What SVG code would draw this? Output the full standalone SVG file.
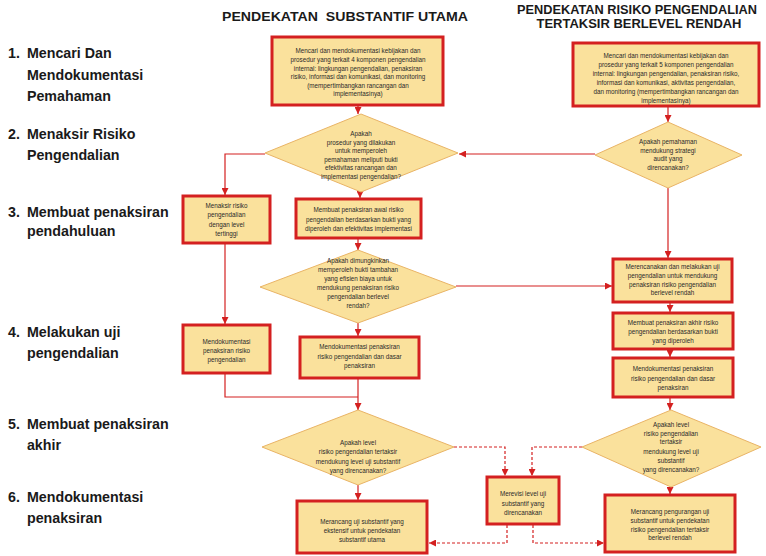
<svg xmlns="http://www.w3.org/2000/svg" width="766" height="556" viewBox="0 0 766 556">
<style>
.box{fill:#FAE19C;stroke:#D42020;stroke-width:3}
.dia{fill:#FAE19C;stroke:#E9B466;stroke-width:1}
.t{font-family:"Liberation Sans",Arial,sans-serif;font-size:6.3px;fill:#2a2a2a;text-anchor:middle}
.lab{font-family:"Liberation Sans",Arial,sans-serif;font-size:15.5px;font-weight:bold;fill:#1a1a1a}
.hd{font-family:"Liberation Sans",Arial,sans-serif;font-weight:bold;fill:#1a1a1a;text-anchor:middle}
.ln{fill:none;stroke:#D42020;stroke-width:1.2}
.dash{fill:none;stroke:#D42020;stroke-width:1.2;stroke-dasharray:3 2}
</style>
<defs>
<marker id="ah" viewBox="0 0 10 10" refX="10" refY="5" markerWidth="7" markerHeight="7" markerUnits="userSpaceOnUse" orient="auto">
<path d="M0,0 L10,5 L0,10 z" fill="#D42020"/>
</marker>
</defs>
<rect width="766" height="556" fill="#ffffff"/>

<g id="headers">
<text class="hd" x="345" y="21" font-size="12.5" textLength="246" lengthAdjust="spacingAndGlyphs" xml:space="preserve">PENDEKATAN  SUBSTANTIF UTAMA</text>
<text class="hd" x="637" y="14" font-size="12" textLength="240" lengthAdjust="spacingAndGlyphs">PENDEKATAN RISIKO PENGENDALIAN</text>
<text class="hd" x="639" y="28" font-size="12" textLength="205" lengthAdjust="spacingAndGlyphs">TERTAKSIR BERLEVEL RENDAH</text>
</g>

<g id="labels" transform="scale(0.92,1)">
<text class="lab" x="8.7" y="58">1.</text><text class="lab" x="29.3" y="58">Mencari Dan</text>
<text class="lab" x="29.3" y="80">Mendokumentasi</text>
<text class="lab" x="29.3" y="101">Pemahaman</text>
<text class="lab" x="8.7" y="139">2.</text><text class="lab" x="29.3" y="139">Menaksir Risiko</text>
<text class="lab" x="29.3" y="160">Pengendalian</text>
<text class="lab" x="8.7" y="217">3.</text><text class="lab" x="29.3" y="217">Membuat penaksiran</text>
<text class="lab" x="29.3" y="236">pendahuluan</text>
<text class="lab" x="8.7" y="337">4.</text><text class="lab" x="29.3" y="337">Melakukan uji</text>
<text class="lab" x="29.3" y="358">pengendalian</text>
<text class="lab" x="8.7" y="429">5.</text><text class="lab" x="29.3" y="429">Membuat penaksiran</text>
<text class="lab" x="29.3" y="450">akhir</text>
<text class="lab" x="8.7" y="502">6.</text><text class="lab" x="29.3" y="502">Mendokumentasi</text>
<text class="lab" x="29.3" y="523">penaksiran</text>
</g>

<g id="connectors">
<path class="ln" d="M358,106 L358,114" marker-end="url(#ah)"/>
<path class="ln" d="M668,107 L668,122" marker-end="url(#ah)"/>
<path class="ln" d="M595,154 L459,154" marker-end="url(#ah)"/>
<path class="ln" d="M265,154 L225,154 L225,195" marker-end="url(#ah)"/>
<path class="ln" d="M360,192 L360,198" marker-end="url(#ah)"/>
<path class="ln" d="M358,239 L358,250" marker-end="url(#ah)"/>
<path class="ln" d="M668,188 L668,258" marker-end="url(#ah)"/>
<path class="ln" d="M456,286 L612,286" marker-end="url(#ah)"/>
<path class="ln" d="M358,323 L358,336" marker-end="url(#ah)"/>
<path class="ln" d="M225,244 L225,324" marker-end="url(#ah)"/>
<path class="ln" d="M225,374 L225,397 L358,397"/>
<path class="ln" d="M358,379 L358,410" marker-end="url(#ah)"/>
<path class="ln" d="M670,303 L670,312" marker-end="url(#ah)"/>
<path class="ln" d="M670,350 L670,357" marker-end="url(#ah)"/>
<path class="ln" d="M670,398 L670,410" marker-end="url(#ah)"/>
<path class="ln" d="M358,485 L358,500" marker-end="url(#ah)"/>
<path class="ln" d="M670,487 L670,494" marker-end="url(#ah)"/>
<path class="dash" d="M454,447 L505,447 L505,476" marker-end="url(#ah)"/>
<path class="dash" d="M582,447 L532,447 L532,476" marker-end="url(#ah)"/>
<path class="dash" d="M507,525 L507,543 L429,543" marker-end="url(#ah)"/>
<path class="dash" d="M533,525 L533,543 L604,543" marker-end="url(#ah)"/>
</g>

<g id="n1">
<rect class="box" x="272" y="37" width="171" height="68"/>
<text class="t" x="358" y="53">Mencari dan mendokumentasi  kebijakan dan</text>
<text class="t" x="358" y="62">prosedur  yang terkait 4 komponen  pengendalian</text>
<text class="t" x="358" y="70.5">internal: lingkungan pengendalian,  penaksiran</text>
<text class="t" x="358" y="79">risiko, informasi dan komunikasi, dan  monitoring</text>
<text class="t" x="358" y="87.5">(mempertimbangkan  rancangan  dan</text>
<text class="t" x="358" y="96">implementasinya)</text>
</g>

<g id="r1">
<rect class="box" x="573" y="43" width="186" height="63"/>
<text class="t" x="666" y="57.5">Mencari dan mendokumentasi  kebijakan dan</text>
<text class="t" x="666" y="66.5">prosedur  yang terkait 5 komponen  pengendalian</text>
<text class="t" x="666" y="75.5">internal: lingkungan pengendalian,  penaksiran risiko,</text>
<text class="t" x="666" y="84.5">informasi dan komunikasi, aktivitas pengendalian,</text>
<text class="t" x="666" y="93.5">dan monitoring (mempertimbangkan  rancangan  dan</text>
<text class="t" x="666" y="102.5">implementasinya)</text>
</g>

<g id="d1">
<polygon class="dia" points="361,114 458,153 361,192 265,153"/>
<text class="t" x="361" y="135.5">Apakah</text>
<text class="t" x="361" y="144.5">prosedur  yang dilakukan</text>
<text class="t" x="361" y="153">untuk  memperoleh</text>
<text class="t" x="361" y="161.5">pemahaman  meliputi bukti</text>
<text class="t" x="361" y="170">efektivitas rancangan   dan</text>
<text class="t" x="361" y="179">implementasi pengendalian?</text>
</g>

<g id="rd1">
<polygon class="dia" points="668,122 742,155 668,188 595,155"/>
<text class="t" x="668" y="144">Apakah pemahaman</text>
<text class="t" x="668" y="152.5">mendukung  strategi</text>
<text class="t" x="668" y="161">audit yang</text>
<text class="t" x="668" y="169.5">direncanakan?</text>
</g>

<g id="l3">
<rect class="box" x="183" y="196" width="87" height="47"/>
<text class="t" x="226.5" y="207.5">Menaksir risiko</text>
<text class="t" x="226.5" y="217">pengendalian</text>
<text class="t" x="226.5" y="226.5">dengan  level</text>
<text class="t" x="226.5" y="235.5">tertinggi</text>
</g>

<g id="m3">
<rect class="box" x="296" y="199" width="125" height="39"/>
<text class="t" x="358.5" y="211.5">Membuat penaksiran  awal risiko</text>
<text class="t" x="358.5" y="221.5">pengendalian  berdasarkan   bukti yang</text>
<text class="t" x="358.5" y="230.5">diperoleh  dan efektivitas implementasi</text>
</g>

<g id="d2">
<polygon class="dia" points="358,250 456,287 358,323 260,287"/>
<text class="t" x="358" y="262.5">Apakah dimungkinkan</text>
<text class="t" x="358" y="271.5">memperoleh   bukti tambahan</text>
<text class="t" x="358" y="280.5">yang efisien biaya untuk</text>
<text class="t" x="358" y="289.5">mendukung  penaksiran risiko</text>
<text class="t" x="358" y="299">pengendalian  berlevel</text>
<text class="t" x="358" y="308">rendah?</text>
</g>

<g id="r3">
<rect class="box" x="613" y="259" width="119" height="43"/>
<text class="t" x="672.5" y="268.5">Merencanakan  dan melakukan uji</text>
<text class="t" x="672.5" y="277.5">pengendalian  untuk mendukung</text>
<text class="t" x="672.5" y="286.5">penaksiran risiko pengendalian</text>
<text class="t" x="672.5" y="295">berlevel rendah</text>
</g>

<g id="l4">
<rect class="box" x="183" y="325" width="87" height="48"/>
<text class="t" x="226.5" y="344">Mendokumentasi</text>
<text class="t" x="226.5" y="352.5">penaksiran  risiko</text>
<text class="t" x="226.5" y="362">pengendalian</text>
</g>

<g id="m4">
<rect class="box" x="300" y="337" width="119" height="41"/>
<text class="t" x="359.5" y="349">Mendokumentasi   penaksiran</text>
<text class="t" x="359.5" y="358.5">risiko pengendalian  dan dasar</text>
<text class="t" x="359.5" y="368">penaksiran</text>
</g>

<g id="r4a">
<rect class="box" x="613" y="313" width="120" height="36"/>
<text class="t" x="673" y="325">Membuat penaksiran  akhir risiko</text>
<text class="t" x="673" y="334">pengendalian  berdasarkan  bukti</text>
<text class="t" x="673" y="342.5">yang diperoleh</text>
</g>

<g id="r4b">
<rect class="box" x="613" y="358" width="120" height="39"/>
<text class="t" x="673" y="370.5">Mendokumentasi   penaksiran</text>
<text class="t" x="673" y="380.5">risiko pengendalian  dan dasar</text>
<text class="t" x="673" y="389.5">penaksiran</text>
</g>

<g id="d3">
<polygon class="dia" points="358,410 454,447 358,485 262,447"/>
<text class="t" x="358" y="445">Apakah  level</text>
<text class="t" x="358" y="454">risiko pengendalian  tertaksir</text>
<text class="t" x="358" y="464">mendukung  level uji substantif</text>
<text class="t" x="358" y="473">yang direncanakan?</text>
</g>

<g id="rd3">
<polygon class="dia" points="671,410 761,447 671,487 582,447"/>
<text class="t" x="671" y="426.5">Apakah  level</text>
<text class="t" x="671" y="435.5">risiko pengendalian</text>
<text class="t" x="671" y="444">tertaksir</text>
<text class="t" x="671" y="454">mendukung  level uji</text>
<text class="t" x="671" y="463">substantif</text>
<text class="t" x="671" y="472">yang direncanakan?</text>
</g>

<g id="rev">
<rect class="box" x="487" y="477" width="72" height="47"/>
<text class="t" x="523" y="495.5">Merevisi  level uji</text>
<text class="t" x="523" y="505.5">substantif yang</text>
<text class="t" x="523" y="514.5">direncanakan</text>
</g>

<g id="b1">
<rect class="box" x="297" y="501" width="130" height="52"/>
<text class="t" x="362" y="524">Merancang  uji substantif yang</text>
<text class="t" x="362" y="533">ekstensif untuk pendekatan</text>
<text class="t" x="362" y="542">substantif utama</text>
</g>

<g id="b2">
<rect class="box" x="605" y="495" width="130" height="57"/>
<text class="t" x="670" y="514">Merancang  pengurangan  uji</text>
<text class="t" x="670" y="522.5">substantif untuk pendekatan</text>
<text class="t" x="670" y="531.5">risiko pengendalian  tertaksir</text>
<text class="t" x="670" y="540">berlevel rendah</text>
</g>
</svg>
